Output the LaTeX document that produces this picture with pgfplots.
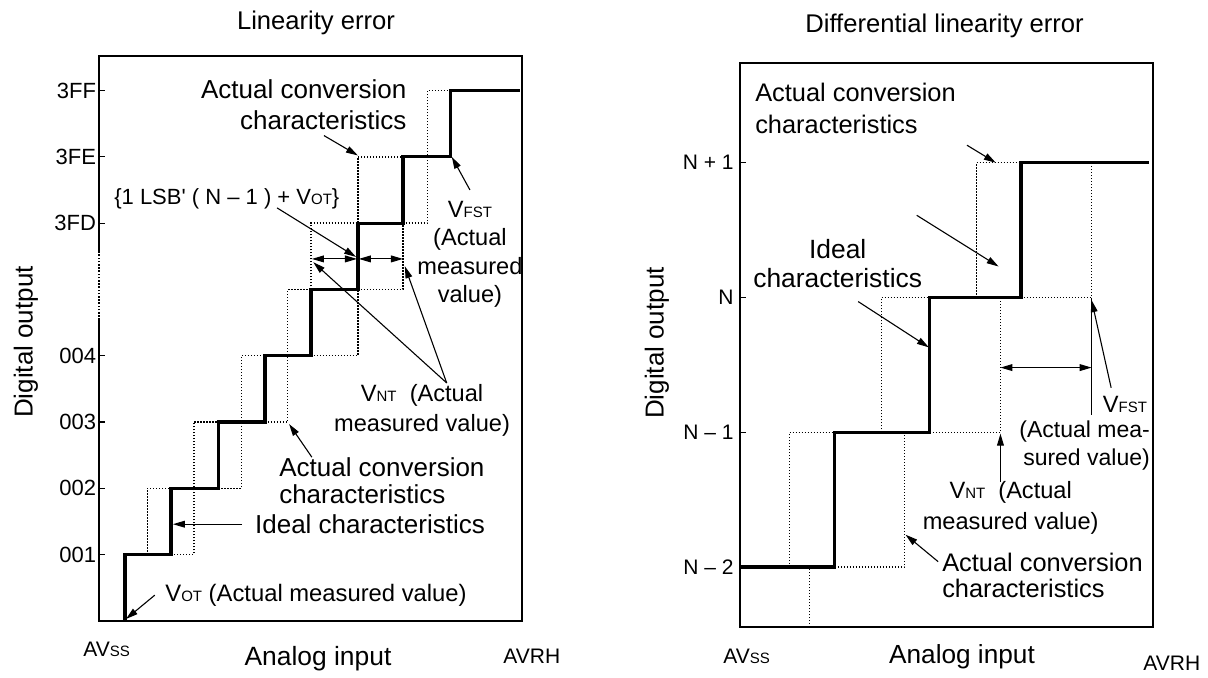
\documentclass[border=0pt]{standalone}
\usepackage{fontspec}
\setmainfont{Liberation Sans}
\usepackage{pgfplots}
\pgfplotsset{compat=1.18}
\usetikzlibrary{arrows.meta}

\newcommand\sm[1]{{\fontsize{7.5}{9}\selectfont #1}}
\newcommand\fs[2]{\fontsize{#1}{#2}\selectfont}

\tikzset{
 ann/.style={line width=0.55pt, -{Triangle[length=6pt,width=3.4pt]}},
 dbl/.style={line width=0.55pt, {Triangle[length=6pt,width=3.4pt]}-{Triangle[length=6pt,width=3.4pt]}},
 dots/.style={line width=0.7pt, dash pattern=on 0.6pt off 0.9pt},
 stair/.style={line width=1.6pt},
}
\pgfplotsset{diag/.style={scale only axis, clip=false, no markers,
  axis line style={line width=1.2pt}, xtick=\empty, ytick pos=left,
  tick align=inside, major tick length=3pt, tick style={line width=0.6pt,black}}}

\begin{document}
\begin{tikzpicture}
\path[use as bounding box] (0,0) rectangle (604pt,338.5pt);

% ---------------- Left: Linearity error ----------------
\begin{axis}[diag, at={(49.5pt,28pt)}, anchor=south west,
  width=211.5pt, height=282.5pt,
  xmin=0, xmax=9.1, ymin=0, ymax=8.52,
  ytick={1,2,3,4,6,7,8}, yticklabels={001,002,003,004,3FD,3FE,3FF},
  yticklabel style={font=\fs{11}{12}, inner sep=0pt, xshift=-1.3pt}]
% broken part of the output axis
\draw[white, line width=2pt] (axis cs:0,4.54) -- (axis cs:0,5.57);
\draw[line width=1.2pt, dash pattern=on 0.8pt off 0.8pt] (axis cs:0,4.54) -- (axis cs:0,5.57);
% actual conversion characteristics (dotted)
\addplot[dots] coordinates {(1.04,1)(1.04,2)(1.55,2)};
\addplot[dots] coordinates {(1.55,1)(2.04,1)(2.04,3)(2.57,3)};
\addplot[dots] coordinates {(2.57,2)(3.06,2)(3.06,4)(3.57,4)};
\addplot[dots] coordinates {(3.57,3)(4.06,3)(4.06,5)(4.56,5)};
\addplot[dots] coordinates {(4.56,4)(5.57,4)(5.57,7)(6.54,7)};
\addplot[dots] coordinates {(4.56,5)(4.56,6)(5.57,6)};
\addplot[dots] coordinates {(5.57,5)(6.54,5)(6.54,6)(7.07,6)(7.07,8)(7.57,8)};
% ideal characteristics
\addplot[stair] coordinates {(0.56,0)(0.56,1)(1.55,1)(1.55,2)(2.57,2)(2.57,3)(3.57,3)(3.57,4)
  (4.56,4)(4.56,5)(5.57,5)(5.57,6)(6.54,6)(6.54,7)(7.57,7)(7.57,8)(9.06,8)};
% arrows
\draw[dbl] (axis cs:4.58,5.46) -- (axis cs:5.55,5.46);
\draw[dbl] (axis cs:5.59,5.46) -- (axis cs:6.54,5.46);
\draw[ann] (axis cs:3.83,6.23) -- (axis cs:5.53,5.49);
\draw[ann] (axis cs:4.84,7.32) -- (axis cs:5.57,7.02);
\draw[ann] (axis cs:7.98,6.5) -- (axis cs:7.59,7.0);
\draw[ann] (axis cs:7.48,3.59) -- (axis cs:4.61,5.41);
\draw[ann] (axis cs:7.48,3.59) -- (axis cs:6.58,5.35);
\draw[ann] (axis cs:4.58,2.47) -- (axis cs:4.09,2.97);
\draw[ann] (axis cs:3.08,1.46) -- (axis cs:1.59,1.46);
\draw[ann] (axis cs:1.20,0.39) -- (axis cs:0.58,0.03);
% texts
\node[anchor=east, align=right, inner sep=0, font=\fs{13}{15.5}] at (axis cs:6.62,7.79) {Actual conversion\\characteristics};
\node[inner sep=0, font=\fs{11}{13}] at (axis cs:2.75,6.36) {\{1 LSB\textquotesingle\ ( N – 1 ) + V\sm{OT}\}};
\node[align=center, inner sep=0, font=\fs{11.8}{14.2}] at (axis cs:7.98,5.53) {V\sm{FST}\\(Actual\\measured\\value)};
\node[align=center, inner sep=0, font=\fs{11.8}{15}] at (axis cs:6.95,3.18) {V\sm{NT}\ \ (Actual\\measured value)};
\node[anchor=west, align=left, inner sep=0, font=\fs{13}{13.5}] at (axis cs:3.87,2.12) {Actual conversion\\characteristics};
\node[anchor=west, inner sep=0, font=\fs{13}{15}] at (axis cs:3.35,1.46) {Ideal characteristics};
\node[anchor=west, inner sep=0, font=\fs{11.9}{14}] at (axis cs:1.42,0.39) {V\sm{OT} (Actual measured value)};
\end{axis}

% ---------------- Right: Differential linearity error ----------------
\begin{axis}[diag, at={(370pt,25pt)}, anchor=south west,
  width=206.5pt, height=282pt,
  xmin=0, xmax=4.44, ymin=-0.445, ymax=3.74,
  ytick={0,1,2,3}, yticklabels={N – 2,N – 1,N,N + 1},
  yticklabel style={font=\fs{10.5}{12}, inner sep=0pt, xshift=-3pt}]
\addplot[dots] coordinates {(0.53,0)(0.53,1)(1.02,1)};
\addplot[dots] coordinates {(0.75,-0.445)(0.75,0)};
\addplot[dots] coordinates {(1.02,0)(1.77,0)(1.77,1)};
\addplot[dots] coordinates {(1.52,1)(1.52,2)(2.04,2)};
\addplot[dots] coordinates {(2.04,1)(2.80,1)(2.80,2)};
\addplot[dots] coordinates {(2.54,2)(2.54,3)(3.02,3)};
\addplot[dots] coordinates {(3.02,2)(3.78,2)(3.78,3)};
\addplot[stair] coordinates {(0,0)(1.02,0)(1.02,1)(2.04,1)(2.04,2)(3.02,2)(3.02,3)(4.40,3)};
\draw[ann] (axis cs:2.44,3.13) -- (axis cs:2.75,3.0);
\draw[ann] (axis cs:1.90,2.61) -- (axis cs:2.78,2.23);
\draw[ann] (axis cs:1.27,1.97) -- (axis cs:2.03,1.63);
\draw[dbl] (axis cs:2.80,1.48) -- (axis cs:3.78,1.48);
\draw[line width=0.55pt] (axis cs:3.78,2) -- (axis cs:3.78,1.13);
\draw[ann] (axis cs:3.99,1.33) -- (axis cs:3.78,1.98);
\draw[ann] (axis cs:2.80,0.63) -- (axis cs:2.80,0.99);
\draw[ann] (axis cs:2.13,0.04) -- (axis cs:1.78,0.24);
\node[anchor=west, align=left, inner sep=0, font=\fs{12.7}{16}] at (axis cs:0.16,3.40) {Actual conversion\\characteristics};
\node[align=center, inner sep=0, font=\fs{13.2}{14.5}] at (axis cs:1.05,2.25) {Ideal\\characteristics};
\node[anchor=east, inner sep=0, font=\fs{11.8}{14}] at (axis cs:4.38,1.21) {V\sm{FST}};
\node[anchor=east, align=right, inner sep=0, font=\fs{11.5}{14}] at (axis cs:4.41,0.90) {(Actual mea-\\sured value)};
\node[align=center, inner sep=0, font=\fs{11.8}{15.5}] at (axis cs:2.91,0.44) {V\sm{NT}\ \ (Actual\\measured value)};
\node[anchor=west, align=left, inner sep=0, font=\fs{12.7}{13}] at (axis cs:2.17,-0.06) {Actual conversion\\characteristics};
\end{axis}

% ---------------- outer labels ----------------
\node[anchor=base, inner sep=0, font=\fs{12.8}{14}] at (158pt,324pt) {Linearity error};
\node[anchor=base west, inner sep=0, font=\fs{12.8}{14}] at (402.5pt,322.5pt) {Differential linearity error};
\node[rotate=90, inner sep=0, font=\fs{13}{15}] at (13pt,167.5pt) {Digital output};
\node[rotate=90, inner sep=0, font=\fs{13}{15}] at (328.5pt,167pt) {Digital output};
\node[anchor=base, inner sep=0, font=\fs{13.2}{15}] at (159pt,6pt) {Analog input};
\node[anchor=base, inner sep=0, font=\fs{13.1}{15}] at (481pt,7pt) {Analog input};
\node[anchor=base west, inner sep=0, font=\fs{10.5}{12}] at (41.5pt,10.5pt) {AV\sm{SS}};
\node[anchor=base west, inner sep=0, font=\fs{10.5}{12}] at (361.5pt,7pt) {AV\sm{SS}};
\node[anchor=base west, inner sep=0, font=\fs{10.5}{12}] at (251.5pt,7pt) {AVRH};
\node[anchor=base west, inner sep=0, font=\fs{10.5}{12}] at (571.5pt,3.5pt) {AVRH};
\end{tikzpicture}
\end{document}
